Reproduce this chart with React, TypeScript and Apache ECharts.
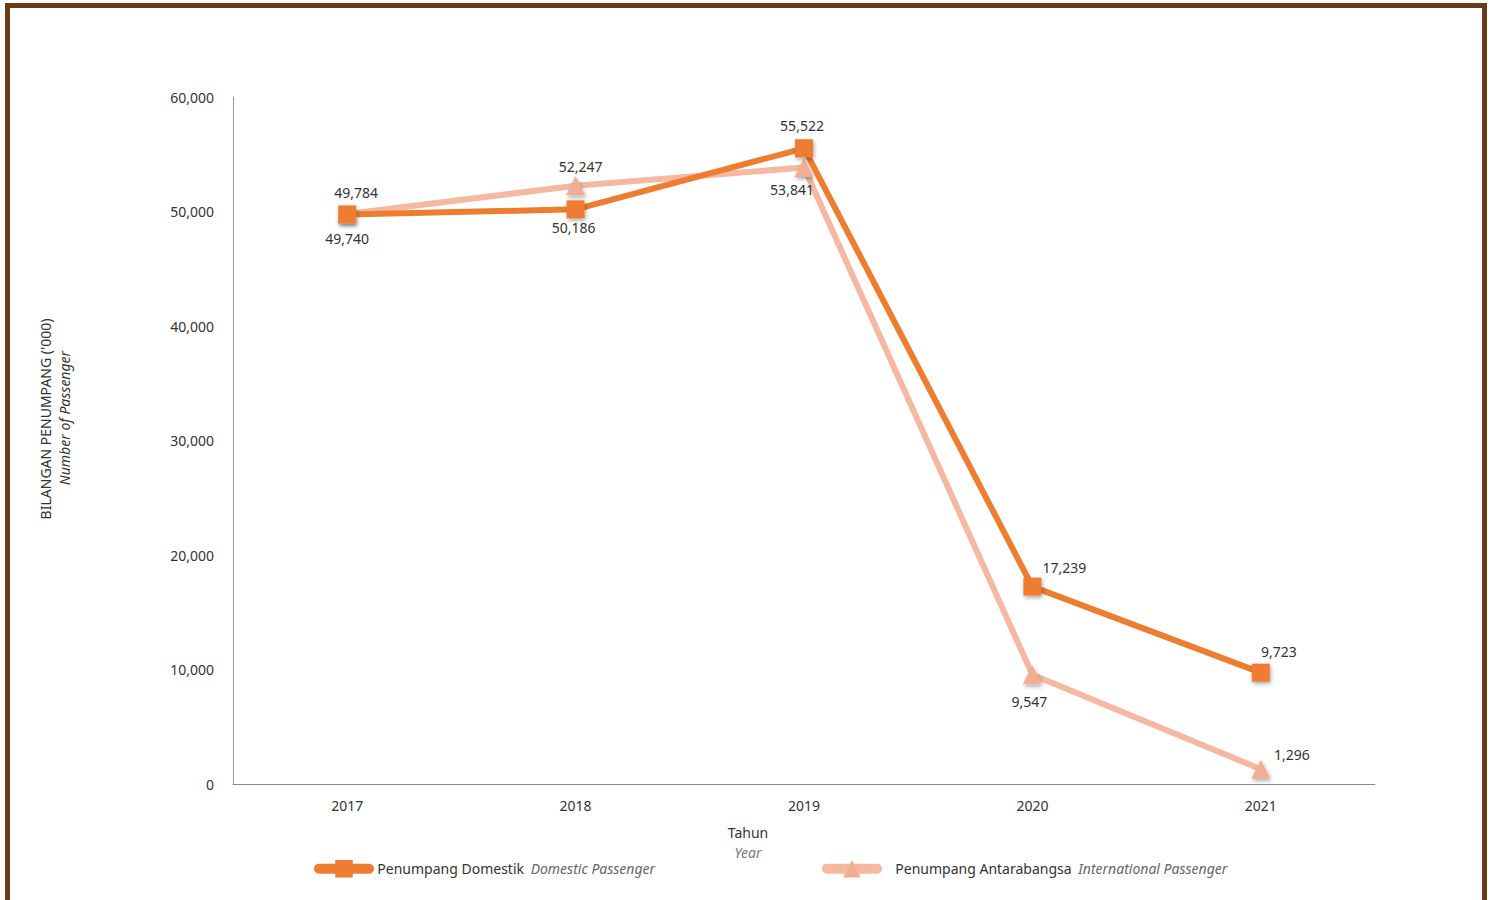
import React, { useEffect, useRef } from "react";
import * as echarts from "echarts";

const years = ["2017", "2018", "2019", "2020", "2021"];
const domestic = [49740, 50186, 55522, 17239, 9723];
const international = [49784, 52247, 53841, 9547, 1296];
const yTicks = [0, 10000, 20000, 30000, 40000, 50000, 60000];

const domName = "Penumpang Domestik";
const domNameEn = "Domestic Passenger";
const intName = "Penumpang Antarabangsa";
const intNameEn = "International Passenger";

// label placements (style, not data)
const domLabelPos = [
  { position: "bottom", offset: [0, 3] },
  { position: "bottom", offset: [-2, -3] },
  { position: "top", offset: [-2, -2] },
  { position: "top", offset: [32, 2] },
  { position: "top", offset: [18, 0] },
];
const intLabelPos = [
  { position: "top", offset: [9, 0] },
  { position: "top", offset: [5, 2] },
  { position: "bottom", offset: [-12, 0] },
  { position: "bottom", offset: [-3, 5] },
  { position: "top", offset: [31, 7] },
];

const fmt = (v: number) => v.toLocaleString("en-US");
const FONT = "'Noto Sans', sans-serif";

export default function App() {
  const ref = useRef<HTMLDivElement>(null);
  useEffect(() => {
    if (!ref.current) return;
    const chart = echarts.init(ref.current, undefined, { renderer: "svg" });
    const shadow = {
      shadowBlur: 4,
      shadowColor: "rgba(0,0,0,0.35)",
      shadowOffsetX: 1,
      shadowOffsetY: 2,
    };
    const mkData = (vals: number[], pos: any[]) =>
      vals.map((v, i) => ({
        value: v,
        label: { position: pos[i].position, offset: pos[i].offset },
      }));
    const legendRich = {
      a: { fontFamily: FONT, fontSize: 14, color: "#333" },
      b: { fontFamily: FONT, fontSize: 14, color: "#666", fontStyle: "italic" },
    };
    const labelStyle = {
      show: true,
      color: "#333",
      fontFamily: FONT,
      fontSize: 14,
      formatter: (p: any) => fmt(p.value),
    };
    chart.setOption({
      animation: false,
      backgroundColor: "#fff",
      grid: { left: 233, right: 116, top: 97, bottom: 116 },
      xAxis: {
        type: "category",
        data: years,
        boundaryGap: true,
        axisLine: { lineStyle: { color: "#888", width: 1 } },
        axisTick: { show: false },
        axisLabel: { color: "#333", fontFamily: FONT, fontSize: 14, margin: 14 },
      },
      yAxis: {
        type: "value",
        min: 0,
        max: 60000,
        interval: 10000,
        splitLine: { show: false },
        axisLine: { show: true, lineStyle: { color: "#999", width: 1 } },
        axisTick: { show: false },
        axisLabel: {
          color: "#333",
          fontFamily: FONT,
          fontSize: 14,
          margin: 19,
          formatter: (v: number) => (yTicks.includes(v) ? fmt(v) : ""),
        },
      },
      legend: [
        {
          data: [domName],
          left: 309,
          top: 855,
          itemWidth: 50,
          itemHeight: 22,
          itemGap: 4,
          lineStyle: { width: 10, cap: "round" },
          formatter: () => ` {a|${domName}}  {b|${domNameEn}}`,
          textStyle: { rich: legendRich },
        },
        {
          data: [intName],
          left: 817,
          top: 855,
          itemWidth: 50,
          itemHeight: 22,
          lineStyle: { width: 10, cap: "round" },
          formatter: () => `    {a|${intName}}  {b|${intNameEn}}`,
          textStyle: { rich: legendRich },
        },
      ],
      series: [
        {
          name: intName,
          type: "line",
          data: mkData(international, intLabelPos),
          symbol: "triangle",
          symbolSize: 19,
          lineStyle: { color: "#F4B9A0", width: 6 },
          itemStyle: { color: "#F2AE93", ...shadow },
          label: labelStyle,
          z: 2,
        },
        {
          name: domName,
          type: "line",
          data: mkData(domestic, domLabelPos),
          symbol: "rect",
          symbolSize: 18,
          lineStyle: { color: "#ED7D31", width: 6 },
          itemStyle: { color: "#EF7B30", ...shadow },
          label: labelStyle,
          z: 3,
        },
      ],
      graphic: [
        {
          type: "rect",
          shape: { x: 7.5, y: 5.5, width: 1477, height: 910 },
          style: { fill: "none", stroke: "#6B3A17", lineWidth: 5 },
          silent: true,
        },
        {
          type: "text",
          x: 45,
          y: 419,
          rotation: Math.PI / 2,
          style: {
            text: "BILANGAN PENUMPANG ('000)",
            fontFamily: FONT,
            fontSize: 14,
            fill: "#333",
            align: "center",
            verticalAlign: "middle",
          },
        },
        {
          type: "text",
          x: 64,
          y: 418,
          rotation: Math.PI / 2,
          style: {
            text: "Number of Passenger",
            fontFamily: FONT,
            fontSize: 14,
            fontStyle: "italic",
            fill: "#333",
            align: "center",
            verticalAlign: "middle",
          },
        },
        {
          type: "text",
          x: 748,
          y: 832,
          style: {
            text: "Tahun",
            fontFamily: FONT,
            fontSize: 14,
            fill: "#333",
            align: "center",
            verticalAlign: "middle",
          },
        },
        {
          type: "text",
          x: 748,
          y: 852,
          style: {
            text: "Year",
            fontFamily: FONT,
            fontSize: 14,
            fontStyle: "italic",
            fill: "#777",
            align: "center",
            verticalAlign: "middle",
          },
        },
      ],
    });
    return () => chart.dispose();
  }, []);
  return (
    <div
      ref={ref}
      style={{ position: "fixed", left: 0, top: 0, width: 1491, height: 900 }}
    />
  );
}
